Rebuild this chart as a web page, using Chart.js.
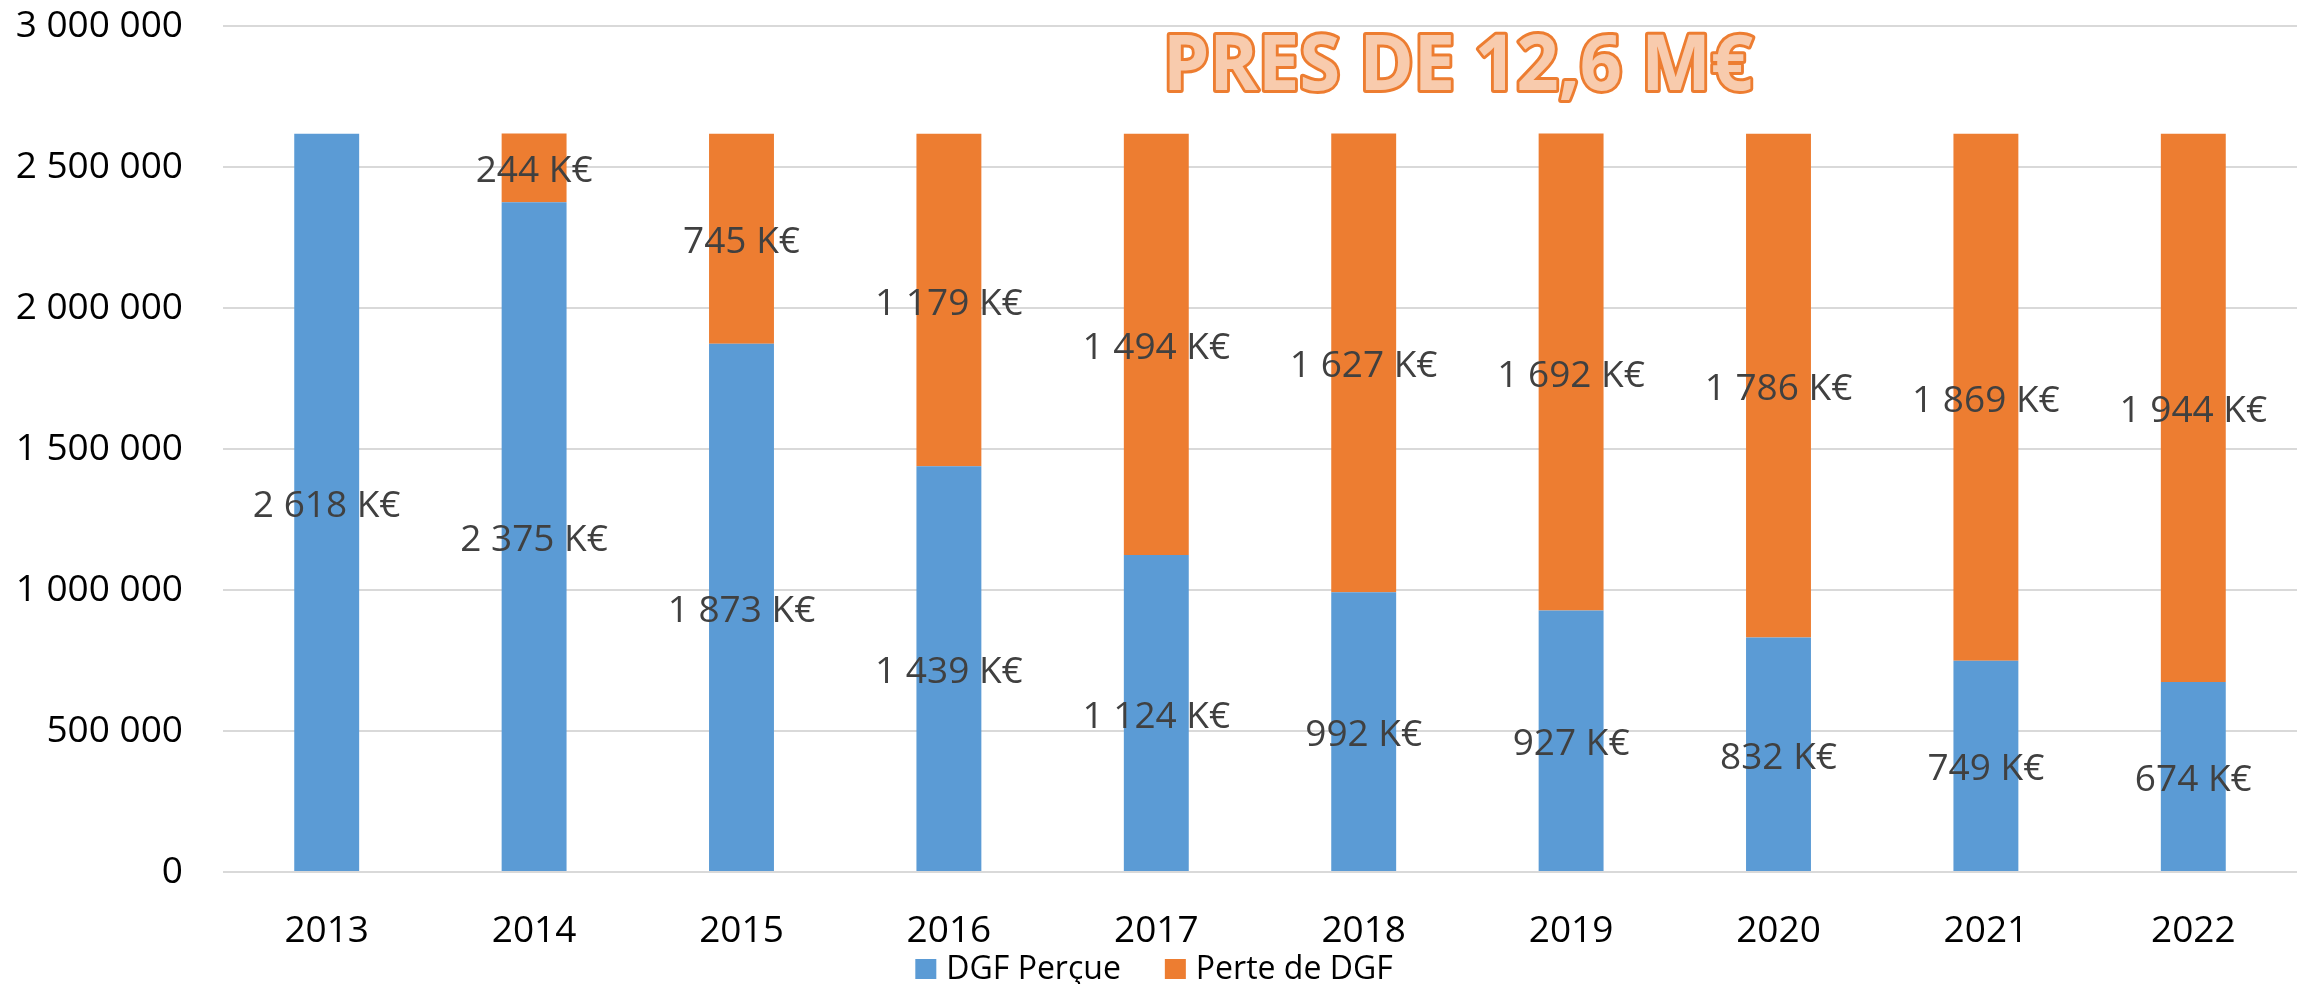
<!DOCTYPE html>
<html>
<head>
<meta charset="utf-8">
<script src="https://cdn.jsdelivr.net/npm/chart.js@4"></script>
<style>
  html, body { margin: 0; padding: 0; background: #fff; }
  #wrap { width: 2308px; height: 984px; }
</style>
</head>
<body>
<div id="wrap"><canvas id="dgfChart" width="2308" height="984"></canvas></div>
<script>
const years = ['2013','2014','2015','2016','2017','2018','2019','2020','2021','2022'];
// values in K€
const dgfPercue = [2618, 2375, 1873, 1439, 1124, 992, 927, 832, 749, 674];
const perteDgf  = [0, 244, 745, 1179, 1494, 1627, 1692, 1786, 1869, 1944];
const titleText = 'PRES DE 12,6 M€';

const spaced = n => String(n).replace(/\B(?=(\d{3})+(?!\d))/g, ' ');

const barLabels = {
  id: 'barLabels',
  afterDatasetsDraw(chart) {
    const ctx = chart.ctx;
    ctx.save();
    ctx.font = '37px "Open Sans"';
    ctx.fillStyle = '#404040';
    ctx.textAlign = 'center';
    ctx.textBaseline = 'middle';
    chart.data.datasets.forEach((ds, i) => {
      const meta = chart.getDatasetMeta(i);
      meta.data.forEach((bar, j) => {
        const v = ds.data[j];
        if (!v) return;
        ctx.fillText(spaced(v / 1000) + ' K€', bar.x, (bar.y + bar.base) / 2 + 4);
      });
    });
    ctx.restore();
  }
};

// bottom legend drawn by hand so spacing matches
const bottomLegend = {
  id: 'bottomLegend',
  afterDraw(chart) {
    const ctx = chart.ctx;
    ctx.save();
    ctx.font = '32px "Open Sans"';
    ctx.textBaseline = 'middle';
    const box = 21, gap = 10, between = 44;
    const items = chart.data.datasets.map(d => ({ text: d.label, color: d.backgroundColor, w: ctx.measureText(d.label).width }));
    let total = items.reduce((s, it) => s + box + gap + it.w, 0) + between * (items.length - 1);
    let x = chart.width / 2 - total / 2;
    const cy = 969;
    items.forEach(it => {
      ctx.fillStyle = it.color;
      ctx.fillRect(x, cy - 10, box, 20);
      ctx.fillStyle = '#000';
      ctx.fillText(it.text, x + box + gap, cy + 1);
      x += box + gap + it.w + between;
    });
    ctx.restore();
  }
};

const bigTitle = {
  id: 'bigTitle',
  afterDraw(chart) {
    const ctx = chart.ctx;
    ctx.save();
    ctx.font = 'bold 77px "Open Sans"';
    ctx.textAlign = 'center';
    ctx.textBaseline = 'alphabetic';
    const w = ctx.measureText(titleText).width;
    const sx = 590 / w;
    ctx.translate(1458, 90);
    ctx.scale(sx, 1);
    ctx.lineJoin = 'round';
    ctx.lineWidth = 6;
    ctx.strokeStyle = '#ED7D31';
    ctx.strokeText(titleText, 0, 0);
    ctx.fillStyle = '#F8CBAD';
    ctx.fillText(titleText, 0, 0);
    ctx.restore();
  }
};

new Chart(document.getElementById('dgfChart'), {
  type: 'bar',
  data: {
    labels: years,
    datasets: [
      { label: 'DGF Perçue', data: dgfPercue.map(v => v * 1000), backgroundColor: '#5B9BD5',
        categoryPercentage: 1, barPercentage: 0.313 },
      { label: 'Perte de DGF', data: perteDgf.map(v => v * 1000), backgroundColor: '#ED7D31',
        categoryPercentage: 1, barPercentage: 0.313 }
    ]
  },
  options: {
    responsive: false,
    animation: false,
    devicePixelRatio: 1,
    layout: { padding: { left: 0, right: 11, top: 0, bottom: 40 } },
    plugins: {
      legend: { display: false },
      tooltip: { enabled: false }
    },
    scales: {
      x: {
        stacked: true,
        grid: { display: false },
        border: { display: false },
        ticks: { color: '#000', padding: 29, font: { family: 'Open Sans', size: 37 } },
        afterFit: s => { s.height = 72; }
      },
      y: {
        stacked: true,
        min: 0, max: 3000000,
        grid: { color: '#d9d9d9', lineWidth: 2, drawTicks: false },
        border: { display: false },
        ticks: { stepSize: 500000, color: '#000', padding: 40,
                 font: { family: 'Open Sans', size: 37 },
                 callback: v => spaced(v) },
        afterFit: s => { s.width = 223; s.paddingTop = 26; s.paddingBottom = 0; }
      }
    }
  },
  plugins: [barLabels, bottomLegend, bigTitle]
});
</script>
</body>
</html>
